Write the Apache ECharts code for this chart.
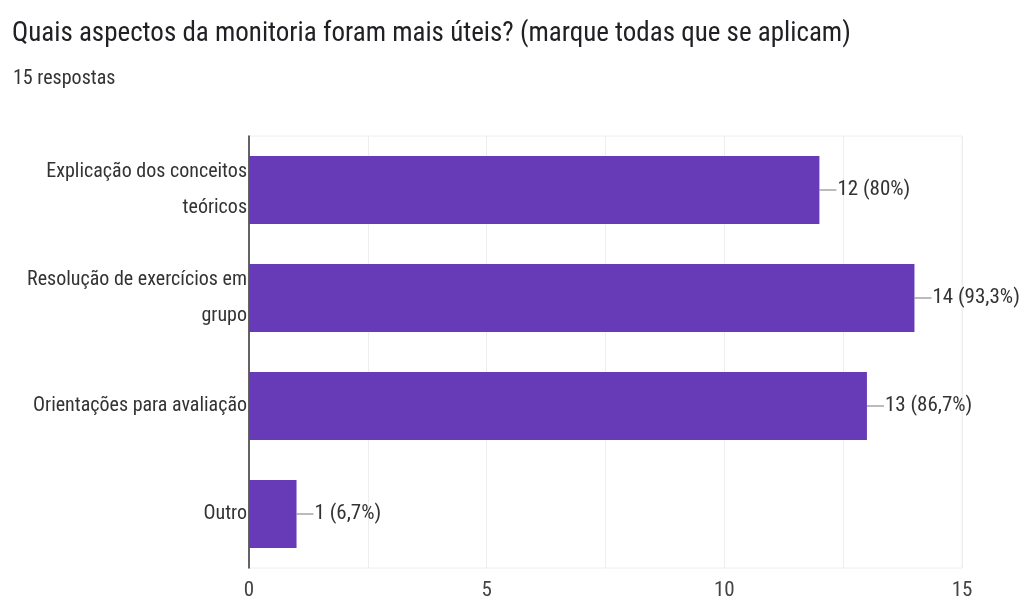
<!DOCTYPE html>
<html><head><meta charset="utf-8">
<script src="https://cdn.jsdelivr.net/npm/echarts@6/dist/echarts.min.js"></script>
<style>html,body{margin:0;padding:0;background:#fff}#c{width:1022px;height:605px}</style>
</head><body><div id="c"></div>
<script>
const titleText = 'Quais aspectos da monitoria foram mais úteis? (marque todas que se aplicam)';
const subtitleText = '15 respostas';
const categories = ['Explicação dos conceitos teóricos', 'Resolução de exercícios em grupo', 'Orientações para avaliação', 'Outro'];
const categoryLines = ['Explicação dos conceitos\nteóricos', 'Resolução de exercícios em\ngrupo', 'Orientações para avaliação', 'Outro'];
const values = [12, 14, 13, 1];
const percents = ['80%', '93,3%', '86,7%', '6,7%'];
const xTicks = [0, 5, 10, 15];
const FONT = '"Liberation Sans Narrow", "Roboto Condensed", Roboto, sans-serif';

const chart = echarts.init(document.getElementById('c'));
chart.setOption({
  animation: false,
  textStyle: { fontFamily: FONT },
  title: [
    { text: titleText, left: 7, top: 16, textStyle: { fontFamily: FONT, fontSize: 27, fontWeight: 'normal', color: '#202124' } },
    { text: subtitleText, left: 8, top: 64, textStyle: { fontFamily: FONT, fontSize: 20, fontWeight: 'normal', color: '#333' } }
  ],
  grid: { left: 249, right: 60, top: 136, bottom: 37, containLabel: false,
          show: true, borderColor: '#eeeeee', borderWidth: 1 },
  xAxis: {
    type: 'value', min: 0, max: 15, interval: 2.5,
    axisLine: { show: false }, axisTick: { show: false },
    splitLine: { show: true, lineStyle: { color: '#eeeeee', width: 1 } },
    axisLabel: { margin: 12, fontSize: 21, color: '#444', fontFamily: FONT,
      formatter: v => xTicks.includes(v) ? String(v) : '' }
  },
  yAxis: {
    type: 'category', data: categories, inverse: true,
    axisLine: { show: true, lineStyle: { color: '#333', width: 1.5 } },
    axisTick: { show: false },
    axisLabel: { margin: 2, fontSize: 20, color: '#333', fontFamily: FONT, lineHeight: 36,
      align: 'right', formatter: (v, i) => categoryLines[categories.indexOf(v)] }
  },
  series: [{
    type: 'bar', data: values, barCategoryGap: '37%',
    itemStyle: { color: '#673ab7' },
    label: {
      show: true, position: 'right', distance: 0,
      formatter: p => '{ln|}{t|' + p.value + ' (' + percents[p.dataIndex] + ')}',
      rich: {
        ln: { width: 17, height: 1, backgroundColor: '#777' },
        t: { fontSize: 21, color: '#333', fontFamily: FONT, padding: [0, 0, 0, 1] }
      }
    }
  }]
});
</script></body></html>
